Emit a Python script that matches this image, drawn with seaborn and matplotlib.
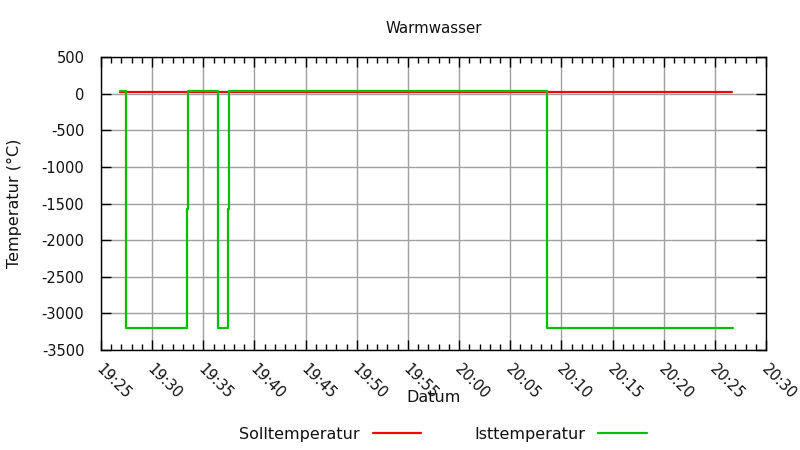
import matplotlib
matplotlib.use("Agg")
import matplotlib.pyplot as plt
import matplotlib.dates as mdates
import matplotlib.transforms as mtransforms
import seaborn as sns
import pandas as pd

title = "Warmwasser"
x_label = "Datum"
y_label = "Temperatur (°C)"
series_names = ["Solltemperatur", "Isttemperatur"]
series_colors = ["#ff0000", "#00c000"]

soll_times = ["19:26:54", "19:45:00", "20:05:00", "20:26:40"]
soll_values = [18, 18, 18, 18]

ist_times = ["19:26:54", "19:27:25", "19:33:26", "19:33:32", "19:36:26",
             "19:37:25", "19:37:31", "20:08:34", "20:26:46"]
ist_values = [40, -3200, -1575, 40, -3200, -1575, 40, -3200, -3200]

x_min, x_max = "19:25:00", "20:30:00"
y_ticks = list(range(-3500, 501, 500))

day = "2020-01-01 "
df = pd.concat([
    pd.DataFrame({"t": pd.to_datetime([day + s for s in soll_times]),
                  "v": soll_values, "s": series_names[0]}),
    pd.DataFrame({"t": pd.to_datetime([day + s for s in ist_times]),
                  "v": ist_values, "s": series_names[1]}),
], ignore_index=True)

sns.set_style("white")
plt.rcParams["font.family"] = ["DejaVu Sans"]
plt.rcParams["axes.unicode_minus"] = False
plt.rcParams["xtick.direction"] = "in"
plt.rcParams["ytick.direction"] = "in"
plt.rcParams["text.color"] = "#111111"
plt.rcParams["axes.labelcolor"] = "#111111"

fig = plt.figure(figsize=(8, 4.5), dpi=100)
ax = fig.add_axes([101/800, 1-350/450, 665/800, 293/450])

sns.lineplot(data=df, x="t", y="v", hue="s", palette=series_colors,
             estimator=None, sort=False, drawstyle="steps-post",
             linewidth=1.6, ax=ax, legend=True)
handles, labels = ax.get_legend_handles_labels()
ax.get_legend().remove()

ax.set_xlim(pd.to_datetime(day + x_min), pd.to_datetime(day + x_max))
ax.set_ylim(-3500, 500)
ax.set_yticks(y_ticks)
ax.xaxis.set_major_locator(mdates.MinuteLocator(byminute=range(0, 60, 5)))
ax.xaxis.set_minor_locator(mdates.MinuteLocator())
ax.xaxis.set_major_formatter(mdates.DateFormatter("%H:%M"))

ax.grid(True, which="major", color="#a0a0a0", linewidth=1)
for sp in ax.spines.values():
    sp.set_color("black")
    sp.set_linewidth(1)
ax.tick_params(which="both", direction="in", top=True, right=True,
               bottom=True, left=True,
               color="black", labelsize=10.5, labelcolor="#111111")
ax.tick_params(which="major", length=7, width=1)
ax.tick_params(which="minor", length=4, width=1)
ax.tick_params(axis="y", pad=12)
ax.tick_params(axis="x", pad=8)
offset = mtransforms.ScaledTranslation(3/100, 0, fig.dpi_scale_trans)
for lab in ax.get_xticklabels():
    lab.set_rotation(-45)
    lab.set_ha("left")
    lab.set_va("top")
    lab.set_rotation_mode("anchor")
    lab.set_transform(lab.get_transform() + offset)

ax.set_title(title, fontsize=10.8, pad=17, color="#111111")
ax.set_xlabel(x_label, fontsize=11.5)
ax.set_ylabel(y_label, fontsize=11.5)
ax.xaxis.set_label_coords(0.5, (350-397)/293)
ax.xaxis.label.set_va("center")
ax.yaxis.set_label_coords((14-101)/665, 0.5)
ax.yaxis.label.set_va("center")

fig.legend(handles, labels, loc="center", bbox_to_anchor=(443/800, 1-434/450),
           ncol=2, markerfirst=False, frameon=False, fontsize=11.5,
           handlelength=3.06, handletextpad=0.8, columnspacing=3.3,
           labelcolor="#111111")

fig.savefig("out.png", dpi=100)
